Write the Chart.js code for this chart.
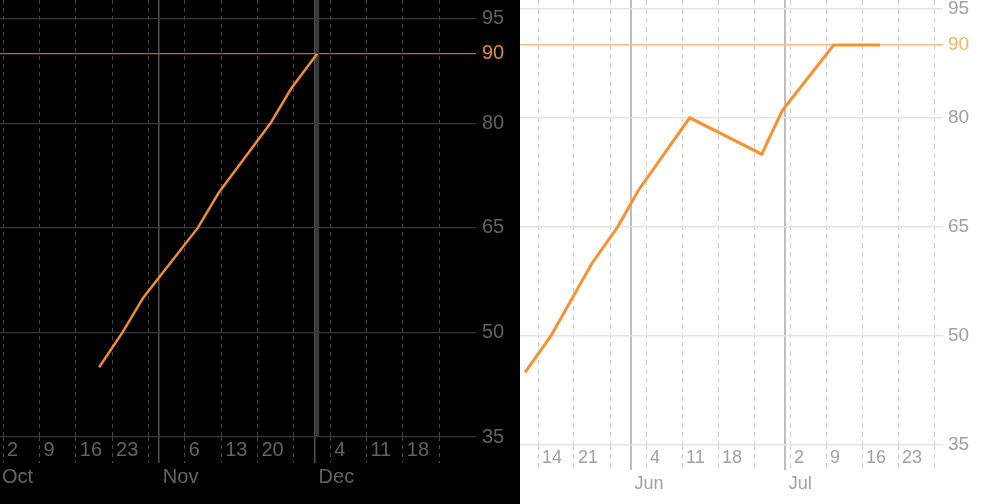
<!DOCTYPE html>
<html>
<head>
<meta charset="utf-8">
<script src="https://cdn.jsdelivr.net/npm/chart.js@4"></script>
<style>
  body { margin: 0; width: 996px; height: 504px; overflow: hidden; background: #fff; }
  #dark { position: absolute; left: 0; top: 0; width: 520px; height: 504px; background: #000; }
  #light { position: absolute; left: 520px; top: 0; width: 476px; height: 504px; background: #fff; }
  canvas { display: block; }
</style>
</head>
<body>
<div id="dark"><canvas id="darkChart" width="520" height="504"></canvas></div>
<div id="light"><canvas id="lightChart" width="476" height="504"></canvas></div>
<script>
// left panel, x = days counted from Oct 2
var darkDays = [18.5, 23, 27, 37.5, 41.5, 51.5, 55.5, 60.5];
var darkValues = [45, 50, 55, 65, 70, 80, 85, 90];
var darkWeekTicks = [0, 7, 14, 21, 28, 35, 42, 49, 56, 63, 70, 77, 84];
var darkWeekLabels = ["2", "9", "16", "23", "", "6", "13", "20", "", "4", "11", "18", ""];
var darkMonthTicks = [-1, 30, 60];
var darkMonthLabels = ["Oct", "Nov", "Dec"];

// right panel, x = days counted from May 14
var lightDays = [-2.5, 2.5, 10.5, 15.5, 19.5, 29.5, 43.5, 47.5, 57.5, 66.5];
var lightValues = [45, 50, 60, 65, 70, 80, 75, 81, 90, 90];
var lightWeekTicks = [0, 7, 14, 21, 28, 35, 42, 49, 56, 63, 70, 77];
var lightWeekLabels = ["14", "21", "", "4", "11", "18", "", "2", "9", "16", "23", ""];
var lightMonthTicks = [18, 48];
var lightMonthLabels = ["Jun", "Jul"];

var yTicks = [35, 50, 65, 80, 90, 95];
var goal = 90;

function makeChart(id, days, values, weekTicks, weekLabels, monthTicks, monthLabels, s, plugins) {
  var points = days.map(function (d, i) { return { x: d, y: values[i] }; });
  var isMonth = function (ctx) { return ctx.tick && ctx.tick.month; };

  return new Chart(document.getElementById(id), {
    type: 'line',
    data: {
      datasets: [{
        data: points,
        borderColor: s.line,
        borderWidth: s.lineWidth,
        pointRadius: 0,
        tension: 0
      }]
    },
    plugins: plugins || [],
    options: {
      responsive: false,
      animation: false,
      layout: { padding: 0 },
      plugins: { legend: { display: false }, tooltip: { enabled: false } },
      scales: {
        x: {
          type: 'linear',
          bounds: 'data',
          min: s.xMin,
          max: s.xMax,
          afterBuildTicks: function (scale) {
            var ticks = [];
            weekTicks.forEach(function (v, i) { ticks.push({ value: v, lbl: weekLabels[i] }); });
            monthTicks.forEach(function (v, i) { ticks.push({ value: v, lbl: ["", monthLabels[i]], month: true }); });
            ticks.sort(function (a, b) { return a.value - b.value; });
            scale.ticks = ticks;
          },
          afterFit: function (scale) {
            scale.height = s.xHeight;
            scale.paddingLeft = 0;
            scale.paddingRight = 0;
          },
          border: {
            display: false,
            dash: function (ctx) { return isMonth(ctx) ? [] : s.dash; }
          },
          grid: {
            color: function (ctx) { return isMonth(ctx) ? s.monthGrid : s.weekGrid; },
            lineWidth: function (ctx) { return isMonth(ctx) ? s.monthWidth : 1; },
            tickColor: function (ctx) { return isMonth(ctx) ? s.monthGrid : s.weekGrid; },
            tickWidth: function (ctx) { return isMonth(ctx) ? s.monthWidth : 1; },
            tickBorderDash: function (ctx) { return isMonth(ctx) ? [] : s.dash; },
            tickLength: s.tickLength
          },
          ticks: {
            autoSkip: false,
            maxRotation: 0,
            minRotation: 0,
            align: 'start',
            labelOffset: 4,
            padding: s.xPad,
            color: s.text,
            font: { family: 'Liberation Sans, Arial, sans-serif', size: s.font, lineHeight: s.lineHeight },
            callback: function (value, index, ticks) { return ticks[index].lbl; }
          }
        },
        y: {
          position: 'right',
          bounds: 'data',
          min: 35,
          max: s.yMax,
          afterBuildTicks: function (scale) {
            scale.ticks = yTicks.map(function (v) { return { value: v }; });
          },
          afterFit: function (scale) {
            scale.width = s.yWidth;
            scale.paddingTop = 0;
            scale.paddingBottom = 0;
          },
          border: { display: false },
          grid: {
            drawTicks: false,
            color: function (ctx) { return ctx.tick && ctx.tick.value === goal ? s.goalLine : s.hGrid; },
            lineWidth: s.hWidth
          },
          ticks: {
            padding: s.yPad,
            color: function (ctx) { return ctx.tick && ctx.tick.value === goal ? s.goalText : s.text; },
            font: { family: 'Liberation Sans, Arial, sans-serif', size: s.yFont }
          }
        }
      }
    }
  });
}

// thick marker line at the latest point of the dark chart
var nowLine = {
  id: 'nowLine',
  beforeDatasetsDraw: function (chart) {
    var x = chart.scales.x.getPixelForValue(darkDays[darkDays.length - 1]);
    var area = chart.chartArea;
    var ctx = chart.ctx;
    ctx.save();
    ctx.strokeStyle = '#3a3a3a';
    ctx.lineWidth = 4;
    ctx.beginPath();
    ctx.moveTo(x, area.top);
    ctx.lineTo(x, area.bottom);
    ctx.stroke();
    ctx.restore();
  }
};

makeChart('darkChart', darkDays, darkValues, darkWeekTicks, darkWeekLabels, darkMonthTicks, darkMonthLabels, {
  xMin: -0.6, xMax: 91.1, yMax: 97.7,
  xHeight: 67, yWidth: 44, tickLength: 26, xPad: -26.5, yPad: 6,
  font: 20, yFont: 20, lineHeight: 1.35,
  line: '#f28c33', lineWidth: 2.5,
  text: '#636363', goalText: '#e0883a', goalLine: '#b8692c',
  hGrid: '#383838', hWidth: 1.3,
  weekGrid: '#474747', monthGrid: '#525252', monthWidth: 1.5, dash: [4, 4]
}, [nowLine]);

makeChart('lightChart', lightDays, lightValues, lightWeekTicks, lightWeekLabels, lightMonthTicks, lightMonthLabels, {
  xMin: -3.5, xMax: 78.75, yMax: 96.2,
  xHeight: 59, yWidth: 53, tickLength: 25, xPad: -25, yPad: 5,
  font: 18, yFont: 19, lineHeight: 1.44,
  line: '#f7922f', lineWidth: 3,
  text: '#a0a0a0', goalText: '#f8b262', goalLine: '#f7bc84',
  hGrid: '#e4e4e4', hWidth: 1.5,
  weekGrid: '#cdcdcd', monthGrid: '#bdbdbd', monthWidth: 2, dash: [5, 4]
});
</script>
</body>
</html>
